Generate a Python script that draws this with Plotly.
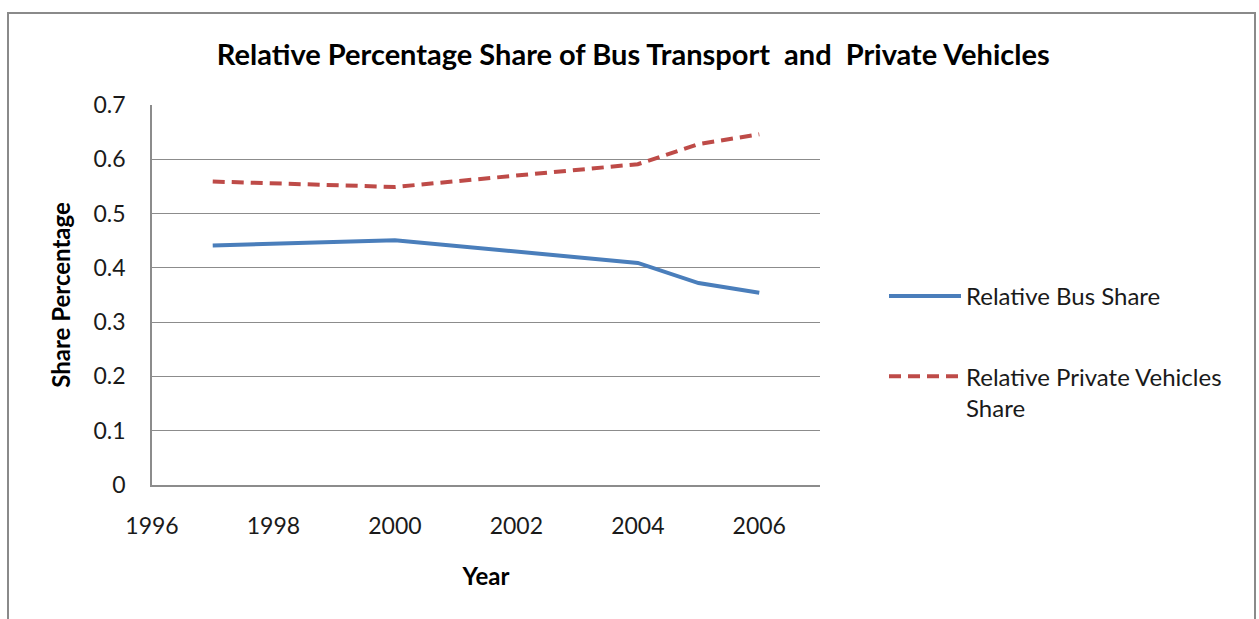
import plotly.graph_objects as go

# Share of trips by mode, per year
years = [1997, 2000, 2004, 2005, 2006]
bus_share = [0.441, 0.451, 0.409, 0.372, 0.354]
private_share = [0.559, 0.549, 0.591, 0.628, 0.646]

x_ticks = [1996, 1998, 2000, 2002, 2004, 2006]
y_ticks = [0, 0.1, 0.2, 0.3, 0.4, 0.5, 0.6, 0.7]

FONT = "Lato"
GRID = "#8c8c8c"

fig = go.Figure()
fig.add_trace(go.Scatter(
    x=years, y=bus_share, mode="lines", name="Relative Bus Share",
    line=dict(color="#4a7ebb", width=4), legendgroup="a",
))
fig.add_trace(go.Scatter(
    x=years, y=private_share, mode="lines",
    name="Relative Private Vehicles<br>Share",
    line=dict(color="#be4b48", width=4, dash="12px,7px"), legendgroup="b",
))

fig.update_layout(
    width=1259, height=619,
    margin=dict(l=152, r=439, t=105, b=134),
    paper_bgcolor="white", plot_bgcolor="white",
    font=dict(family=FONT, size=23, color="#1a1a1a"),
    title=dict(
        text="<b>Relative Percentage Share of Bus Transport  and  Private Vehicles</b>",
        xref="container", yref="container", x=0.503, y=1 - 55 / 619,
        xanchor="center", yanchor="middle",
        font=dict(family=FONT, size=29, color="black"),
    ),
    showlegend=True,
    legend=dict(
        x=(884 - 152) / 668, y=(485 - 274) / 380, xanchor="left", yanchor="top",
        font=dict(family=FONT, size=24, color="#1a1a1a"),
        itemwidth=72, tracegroupgap=46, traceorder="grouped", valign="top",
        bgcolor="rgba(0,0,0,0)",
    ),
    xaxis=dict(
        range=[1996, 2007], tickvals=x_ticks, showgrid=False,
        showline=True, linecolor=GRID, linewidth=1.5, zeroline=False,
        ticks="outside", ticklen=20, tickcolor="rgba(0,0,0,0)",
        title=dict(text="<b>Year</b>", font=dict(family=FONT, size=24, color="black"), standoff=30),
    ),
    yaxis=dict(
        range=[0, 0.7], tickvals=y_ticks, tickformat="",
        showgrid=True, gridcolor=GRID, gridwidth=1,
        showline=True, linecolor=GRID, linewidth=1.5, zeroline=False,
        ticks="outside", ticklen=20, tickcolor="rgba(0,0,0,0)",
        title=dict(text="<b>Share Percentage</b>", font=dict(family=FONT, size=24, color="black"), standoff=16),
    ),
)

# outer chart frame
fig.add_shape(
    type="rect", xref="paper", yref="paper",
    x0=(8 - 152) / 668, x1=(1255 - 152) / 668,
    y0=(485 - 650) / 380, y1=(485 - 13) / 380,
    line=dict(color="#8a8a8a", width=2), fillcolor="rgba(0,0,0,0)", layer="below",
)

fig.write_html("out.html")
